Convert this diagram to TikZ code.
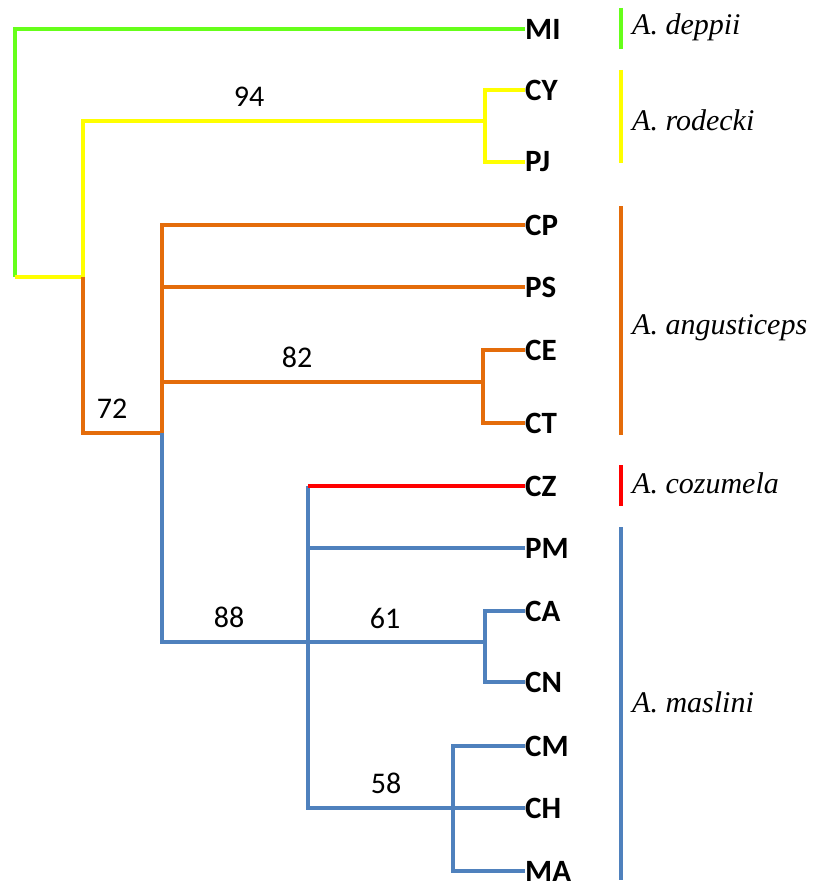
\documentclass[tikz,border=0pt]{standalone}
\usepackage{fontspec}
\setmainfont{Liberation Serif}
\newfontfamily\labfont{Carlito}
\definecolor{cgreen}{HTML}{66FF1A}
\definecolor{cyellow}{HTML}{FFFF00}
\definecolor{corange}{HTML}{E46C0A}
\definecolor{cred}{HTML}{FF0000}
\definecolor{cblue}{HTML}{4F81BD}
\begin{document}
\begin{tikzpicture}[x=1pt,y=-1pt,
  branch/.style={line width=4.5pt, line join=miter},
  leaf/.style={anchor=west, inner sep=0pt, font=\labfont\bfseries\fontsize{31}{33}\selectfont},
  support/.style={inner sep=0pt, font=\labfont\fontsize{30}{32}\selectfont},
  species/.style={anchor=west, inner sep=0pt, font=\itshape\fontsize{30}{32}\selectfont},
  bar/.style={line width=4pt}]
\useasboundingbox (0,0) rectangle (818,888);

% terminal taxa
\node[leaf] (MI) at (525,29) {MI};
\node[leaf] (CY) at (525,90) {CY};
\node[leaf] (PJ) at (525,162) {PJ};
\node[leaf] (CP) at (525,225) {CP};
\node[leaf] (PS) at (525,287) {PS};
\node[leaf] (CE) at (525,350) {CE};
\node[leaf] (CT) at (525,423) {CT};
\node[leaf] (CZ) at (525,486) {CZ};
\node[leaf] (PM) at (525,548) {PM};
\node[leaf] (CA) at (525,611) {CA};
\node[leaf] (CN) at (525,682) {CN};
\node[leaf] (CM) at (525,746) {CM};
\node[leaf] (CH) at (525,808) {CH};
\node[leaf] (MA) at (525,871) {MA};

% internal nodes
\coordinate (root) at (15,277);
\coordinate (nA) at (83,277);
\coordinate (nRod) at (485,121);
\coordinate (nAng) at (162,433);
\coordinate (nCE) at (483,382);
\coordinate (nMas) at (308,642);
\coordinate (nCZ) at (308,486);
\coordinate (nCA) at (485,642);
\coordinate (nCM) at (453,808);

% branches
\draw[branch, cgreen] (root) |- (MI.west);
\draw[branch, cyellow] (root) -- (nA) |- (nRod);
\draw[branch, cyellow] (CY.west) -| (nRod) |- (PJ.west);
\draw[branch, corange] (nA) |- (nAng);
\draw[branch, corange] (nAng) |- (CP.west);
\draw[branch, corange] (nAng) |- (PS.west);
\draw[branch, corange] (nAng) |- (nCE);
\draw[branch, corange] (CE.west) -| (nCE) |- (CT.west);
\draw[branch, cblue] (nAng) |- (nMas);
\draw[branch, cblue] (nMas) -- (nCA);
\draw[branch, cblue] (CA.west) -| (nCA) |- (CN.west);
\draw[branch, cblue] (nCZ) |- (nCM);
\draw[branch, cblue] (nMas) |- (PM.west);
\draw[branch, cblue] (CM.west) -| (nCM) |- (MA.west);
\draw[branch, cblue] (nCM) -- (CH.west);
\draw[branch, cred] (nCZ) -- (CZ.west);

% bootstrap support
\node[support] (b94) at (249,97) {94};
\node[support] (b82) at (297,357) {82};
\node[support] (b72) at (112,409) {72};
\node[support] (b88) at (229,617) {88};
\node[support] (b61) at (385,618) {61};
\node[support] (b58) at (386,783) {58};

% species brackets
\coordinate (sg1) at (621,8);   \coordinate (sg2) at (621,49);
\coordinate (sy1) at (621,70);  \coordinate (sy2) at (621,163);
\coordinate (so1) at (621,206); \coordinate (so2) at (621,435);
\coordinate (sr1) at (621,465); \coordinate (sr2) at (621,506);
\coordinate (sb1) at (621,527); \coordinate (sb2) at (621,880);
\draw[bar, cgreen] (sg1) -- (sg2);
\draw[bar, cyellow] (sy1) -- (sy2);
\draw[bar, corange] (so1) -- (so2);
\draw[bar, cred] (sr1) -- (sr2);
\draw[bar, cblue] (sb1) -- (sb2);
\node[species] (sdep) at (632,27) {A. deppii};
\node[species] (srod) at (632,120) {A. rodecki};
\node[species] (sang) at (632,328) {A. angusticeps};
\node[species] (scoz) at (632,483) {A. cozumela};
\node[species] (smas) at (632,702) {A. maslini};
\end{tikzpicture}
\end{document}
